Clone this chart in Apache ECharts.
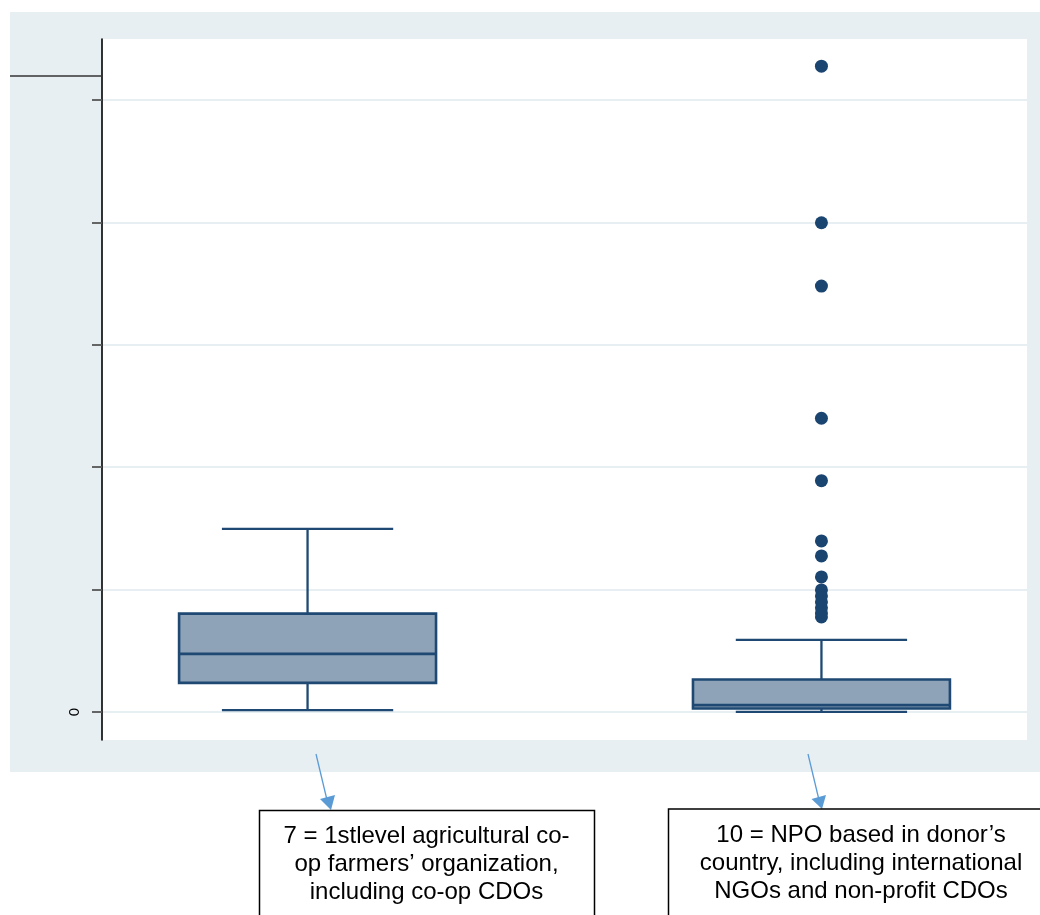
<!DOCTYPE html>
<html>
<head>
<meta charset="utf-8">
<script src="https://cdn.jsdelivr.net/npm/echarts@6/dist/echarts.min.js"></script>
<style>
html,body{margin:0;padding:0;background:#fff;}
#chart{width:1040px;height:915px;}
</style>
</head>
<body>
<div id="chart"></div>
<script>
// ---- data ----
const categories = [7, 10];
const whiskerLow = [0.014, 0.0];
const quart1 = [0.237, 0.027];
const medians = [0.474, 0.055];
const quart3 = [0.803, 0.264];
const whiskerHigh = [1.495, 0.588];
const outlierCat = [10, 10, 10, 10, 10, 10, 10, 10, 10, 10, 10, 10, 10, 10];
const outlierVal = [5.278, 3.998, 3.480, 2.400, 1.890, 1.397, 1.275, 1.103, 0.997, 0.948, 0.899, 0.850, 0.809, 0.776];
const yTickValues = [0, 1, 2, 3, 4, 5];
const yTickLabels = ['0', '', '', '', '', ''];
const catNotes = [
  '7 = 1stlevel agricultural co-\nop farmers\u2019 organization,\nincluding co-op CDOs',
  '10 = NPO based in donor\u2019s\ncountry, including international\nNGOs and non-profit CDOs'
];

// ---- build ----
const boxData = categories.map((c, i) => [c, whiskerLow[i], quart1[i], medians[i], quart3[i], whiskerHigh[i]]);
const outData = outlierVal.map((v, i) => [outlierCat[i], v]);

const LINE = '#1f4973';
const FILL = '#8ea3b8';
const BOX_W = 1.5, CAP_W = 1;

const chart = echarts.init(document.getElementById('chart'), null, {renderer: 'canvas'});

function renderBox(params, api) {
  const x = api.value(0);
  const lo = api.coord([x, api.value(1)]);
  const q1 = api.coord([x, api.value(2)]);
  const md = api.coord([x, api.value(3)]);
  const q3 = api.coord([x, api.value(4)]);
  const hi = api.coord([x, api.value(5)]);
  const bw = api.size([BOX_W, 0])[0];
  const cw = api.size([CAP_W, 0])[0];
  const ls = {stroke: LINE, lineWidth: 2.3, fill: null};
  return {
    type: 'group',
    children: [
      {type: 'line', shape: {x1: lo[0], y1: lo[1], x2: q1[0], y2: q1[1]}, style: ls},
      {type: 'line', shape: {x1: q3[0], y1: q3[1], x2: hi[0], y2: hi[1]}, style: ls},
      {type: 'line', shape: {x1: lo[0] - cw / 2, y1: lo[1], x2: lo[0] + cw / 2, y2: lo[1]}, style: ls},
      {type: 'line', shape: {x1: hi[0] - cw / 2, y1: hi[1], x2: hi[0] + cw / 2, y2: hi[1]}, style: ls},
      {type: 'rect', shape: {x: q3[0] - bw / 2, y: q3[1], width: bw, height: q1[1] - q3[1]},
        style: {fill: FILL, stroke: LINE, lineWidth: 2.6}},
      {type: 'line', shape: {x1: md[0] - bw / 2, y1: md[1], x2: md[0] + bw / 2, y2: md[1]},
        style: {stroke: LINE, lineWidth: 2.6}}
    ]
  };
}

function noteBox(cx, left, top, width, text) {
  return {
    type: 'group',
    children: [
      {type: 'rect', shape: {x: left, y: top, width: width, height: 140},
        style: {fill: '#fff', stroke: '#000', lineWidth: 1.5}},
      {type: 'text', x: cx, y: top + 12,
        style: {text: text, fill: '#000', font: '24px "Liberation Sans", Arial, sans-serif',
          align: 'center', verticalAlign: 'top', lineHeight: 28}}
    ]
  };
}
function arrow(x1, y1, x2, y2, tip, b1, b2) {
  return {
    type: 'group',
    children: [
      {type: 'line', shape: {x1: x1, y1: y1, x2: x2, y2: y2}, style: {stroke: '#5b9bd5', lineWidth: 1.3}},
      {type: 'polygon', shape: {points: [tip, b1, b2]}, style: {fill: '#5b9bd5'}}
    ]
  };
}

const option = {
  backgroundColor: '#ffffff',
  animation: false,
  grid: [
    {left: 102, top: 39, width: 925, height: 701, show: true, backgroundColor: '#ffffff', borderWidth: 0},
    {left: 102, top: 100, width: 925, height: 612, show: false}
  ],
  xAxis: [
    {gridIndex: 0, type: 'value', min: 5.8, max: 11.2, show: false},
    {gridIndex: 1, type: 'value', min: 0, max: 1, show: false}
  ],
  yAxis: [
    {gridIndex: 0, type: 'value', min: -0.23, max: 5.5,
      axisLine: {show: true, onZero: false, lineStyle: {color: '#000', width: 1.6}},
      axisTick: {show: false}, splitLine: {show: false}, axisLabel: {show: false}},
    {gridIndex: 1, type: 'value', min: yTickValues[0], max: yTickValues[yTickValues.length - 1], interval: 1,
      axisLine: {show: false},
      axisTick: {show: true, length: 10, lineStyle: {color: '#555', width: 1.8}},
      splitLine: {show: true, lineStyle: {color: '#e8eff2', width: 2}},
      axisLabel: {show: true, rotate: 90, margin: 20, color: '#000', fontSize: 15,
        fontFamily: '"Liberation Sans", Arial, sans-serif',
        formatter: function (v) { const k = yTickValues.indexOf(v); return k >= 0 ? yTickLabels[k] : ''; }}}
  ],
  series: [
    {type: 'custom', xAxisIndex: 0, yAxisIndex: 0, data: boxData, renderItem: renderBox, z: 3,
      encode: {x: 0, y: [1, 2, 3, 4, 5]}},
    {type: 'scatter', xAxisIndex: 0, yAxisIndex: 0, data: outData, symbol: 'circle', symbolSize: 13,
      itemStyle: {color: '#1b4571', opacity: 1}, z: 4}
  ],
  graphic: [
    {type: 'rect', z: -10, shape: {x: 10, y: 12, width: 1030, height: 760}, style: {fill: '#e8eff2'}},
    {type: 'line', z: 5, shape: {x1: 10, y1: 76, x2: 102, y2: 76}, style: {stroke: '#333', lineWidth: 1.4}},
    arrow(316, 754, 327, 800, [331, 810], [320, 799], [335, 795]),
    arrow(808, 754, 819, 800, [822, 809], [811.5, 799], [826, 795]),
    noteBox(426.5, 259.5, 810.5, 335, catNotes[0]),
    noteBox(861, 668.5, 809, 385, catNotes[1])
  ]
};
chart.setOption(option);
</script>
</body>
</html>
